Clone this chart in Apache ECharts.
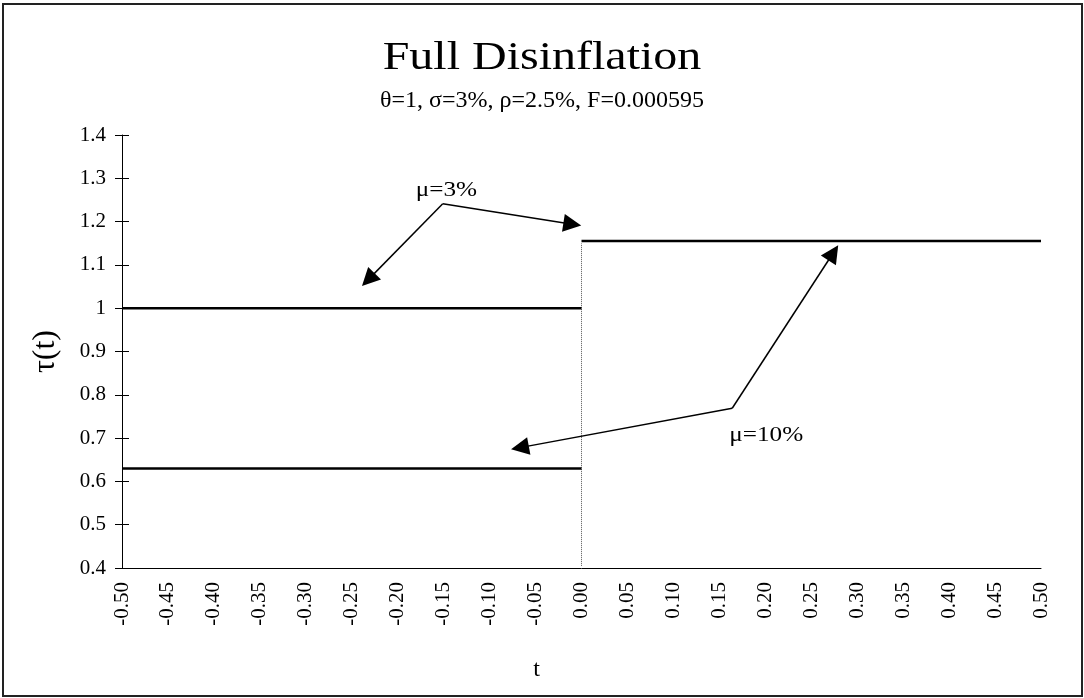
<!DOCTYPE html>
<html>
<head>
<meta charset="utf-8">
<script src="https://cdn.jsdelivr.net/npm/echarts@6/dist/echarts.min.js"></script>
<style>
html,body{margin:0;padding:0;background:#fff;}
#c{width:1084px;height:698px;}
</style>
</head>
<body>
<div id="c"></div>
<script>
// Data
const tBefore = [-0.5, 0];
const tAfter = [0, 0.5];
const tauMu3Before = [1.0, 1.0];
const tauMu10Before = [0.63, 0.63];
const tauAfter = [1.155, 1.155];
const switchLine = [[0, 0.405], [0, 1.15]];
// annotation arrows [from, to] in data coordinates
const arrowsMu3 = [[[-0.151, 1.241], [-0.232, 1.066]], [[-0.151, 1.241], [-0.010, 1.194]]];
const arrowsMu10 = [[[0.164, 0.769], [-0.067, 0.678]], [[0.164, 0.769], [0.274, 1.128]]];
const labelMu3 = { text: 'μ=3%', pos: [-0.147, 1.273] };
const labelMu10 = { text: 'μ=10%', pos: [0.201, 0.707] };
const titleText = 'Full Disinflation';
const subtitleText = 'θ=1, σ=3%, ρ=2.5%, F=0.000595';

const FONT = 'Liberation Serif';
function pairs(xs, ys) { return xs.map((x, i) => [x, ys[i]]); }

const chart = echarts.init(document.getElementById('c'));

function arrowData(list) {
  return list.map(a => [{ coord: a[0], symbol: 'none' }, { coord: a[1], symbol: 'triangle' }]);
}

chart.setOption({
  backgroundColor: '#fff',
  animation: false,
  title: {
    text: subtitleText,
    left: 'center',
    top: 84,
    textStyle: { fontFamily: FONT, fontSize: 24, fontWeight: 'normal', color: '#000' }
  },
  grid: { left: 122, right: 43, top: 135, bottom: 130 },
  xAxis: {
    type: 'value', min: -0.5, max: 0.5, interval: 0.05,
    name: 't', nameLocation: 'middle', nameGap: 90,
    nameTextStyle: { fontFamily: FONT, fontSize: 24, color: '#000', padding: [0, 90, 0, 0] },
    axisLine: { onZero: false, lineStyle: { color: '#000', width: 1 } },
    axisTick: { show: false },
    splitLine: { show: false },
    axisLabel: {
      rotate: 90, margin: 14, fontFamily: FONT, fontSize: 21, color: '#000',
      formatter: v => (Math.abs(v) < 1e-9 ? 0 : v).toFixed(2)
    }
  },
  yAxis: [{
    type: 'value', min: 0.4, max: 1.4, interval: 0.1,
    name: 'τ(t)', nameLocation: 'middle', nameGap: 60, nameRotate: 90,
    nameTextStyle: { fontFamily: FONT, fontSize: 32, color: '#000' },
    axisLine: { show: true, onZero: false, lineStyle: { color: '#000', width: 1 } },
    axisTick: { show: true, length: 7, lineStyle: { color: '#000' } },
    splitLine: { show: false },
    axisLabel: {
      margin: 16, fontFamily: FONT, fontSize: 21, color: '#000',
      formatter: v => String(Math.round(v * 10) / 10)
    }
  }, {
    type: 'value', min: 0.4, max: 1.4, interval: 0.1, position: 'left',
    axisLine: { show: false, onZero: false },
    axisTick: { show: true, inside: true, length: 7, lineStyle: { color: '#000' } },
    axisLabel: { show: false },
    splitLine: { show: false }
  }],
  series: [
    {
      type: 'line', data: pairs(tBefore, tauMu3Before), symbol: 'none',
      lineStyle: { color: '#000', width: 2.5 }, z: 3
    },
    {
      type: 'line', data: pairs(tBefore, tauMu10Before), symbol: 'none',
      lineStyle: { color: '#000', width: 2.5 }, z: 3
    },
    {
      type: 'line', data: pairs(tAfter, tauAfter), symbol: 'none',
      lineStyle: { color: '#000', width: 2.5 }, z: 3
    },
    {
      type: 'line', data: switchLine, symbol: 'none',
      lineStyle: { color: '#555', width: 1, type: [1, 1] }, z: 2,
      markLine: {
        silent: true, animation: false,
        symbolSize: 18,
        lineStyle: { color: '#000', width: 1.5, type: 'solid' },
        label: { show: false },
        data: arrowData(arrowsMu3).concat(arrowData(arrowsMu10))
      }
    }
  ]
});

// Text placed via the chart's own coordinate conversion; title drawn slightly widened like the reference
const p3 = chart.convertToPixel({ gridIndex: 0 }, labelMu3.pos);
const p10 = chart.convertToPixel({ gridIndex: 0 }, labelMu10.pos);
chart.setOption({
  graphic: [
    {
      type: 'rect', shape: { x: 3, y: 4, width: 1079, height: 692 },
      style: { fill: 'none', stroke: '#222', lineWidth: 2 }, silent: true, z: -1
    },
    {
      type: 'text', x: 542, y: 58, scaleX: 1.2, silent: true,
      style: { text: titleText, fontFamily: FONT, fontSize: 40, fill: '#000', align: 'center', verticalAlign: 'middle' }
    },
    {
      type: 'text', x: p3[0], y: p3[1], scaleX: 1.2, silent: true,
      style: { text: labelMu3.text, fontFamily: FONT, fontSize: 21, fill: '#000', align: 'center', verticalAlign: 'middle' }
    },
    {
      type: 'text', x: p10[0], y: p10[1], scaleX: 1.2, silent: true,
      style: { text: labelMu10.text, fontFamily: FONT, fontSize: 21, fill: '#000', align: 'center', verticalAlign: 'middle' }
    }
  ]
});
</script>
</body>
</html>
